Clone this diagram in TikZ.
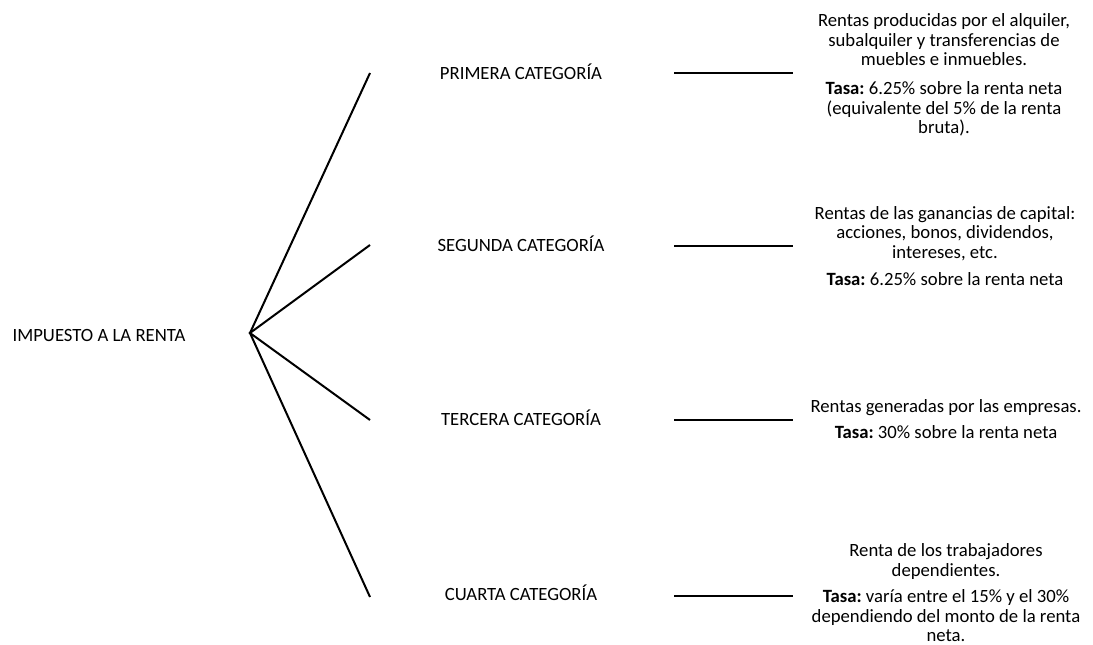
\documentclass[tikz,border=0pt]{standalone}
\usepackage{fontspec}
\setmainfont{Carlito}
\frenchspacing
\begin{document}
\begin{tikzpicture}[x=1pt,y=-1pt,
  lbl/.style={font=\fontsize{18.7}{20}\selectfont, inner sep=0pt, anchor=base},
  desc/.style={font=\fontsize{18.7}{19.3}\selectfont\frenchspacing, align=center, inner sep=0pt, anchor=north},
  conn/.style={line width=2pt, black}]
\useasboundingbox (0,0) rectangle (1093,645);
% root
\node[lbl] (root) at (99,341) {IMPUESTO A LA RENTA};
\coordinate (apex) at (250,333);
% branch ends
\coordinate (e1) at (370,73);
\coordinate (e2) at (370,245);
\coordinate (e3) at (370,420);
\coordinate (e4) at (370,597);
\draw[conn] (e1) -- (apex) -- (e4);
\draw[conn] (e2) -- (apex) -- (e3);
% categories
\node[lbl] (c1) at (521,79.5) {PRIMERA CATEGORÍA};
\node[lbl] (c2) at (521,251.5) {SEGUNDA CATEGORÍA};
\node[lbl] (c3) at (521,425.5) {TERCERA CATEGORÍA};
\node[lbl] (c4) at (521,600.5) {CUARTA CATEGORÍA};
% horizontal connectors
\coordinate (h1a) at (674,73); \coordinate (h1b) at (793,73);
\coordinate (h2a) at (674,246); \coordinate (h2b) at (793,246);
\coordinate (h3a) at (674,420); \coordinate (h3b) at (793,420);
\coordinate (h4a) at (674,596); \coordinate (h4b) at (793,596);
\draw[conn] (h1a) -- (h1b);
\draw[conn] (h2a) -- (h2b);
\draw[conn] (h3a) -- (h3b);
\draw[conn] (h4a) -- (h4b);
% descriptions
\node[desc] (d1a) at (944,13.2) {\strut Rentas producidas por el alquiler,\\subalquiler y transferencias de\\muebles e inmuebles.};
\node[desc] (d1b) at (944,80.5) {\strut\textbf{Tasa:} 6.25\% sobre la renta neta\\(equivalente del 5\% de la renta\\bruta).};
\node[desc] (d2a) at (945,205.8) {\strut Rentas de las ganancias de capital:\\acciones, bonos, dividendos,\\intereses, etc.};
\node[desc] (d2b) at (945,272.2) {\strut\textbf{Tasa:} 6.25\% sobre la renta neta};
\node[desc] (d3a) at (946,398.8) {\strut Rentas generadas por las empresas.};
\node[desc] (d3b) at (946,425) {\strut\textbf{Tasa:} 30\% sobre la renta neta};
\node[desc] (d4a) at (946,543.2) {\strut Renta de los trabajadores\\dependientes.};
\node[desc] (d4b) at (946,589) {\strut\textbf{Tasa:} varía entre el 15\% y el 30\%\\dependiendo del monto de la renta\\neta.};
\end{tikzpicture}
\end{document}
